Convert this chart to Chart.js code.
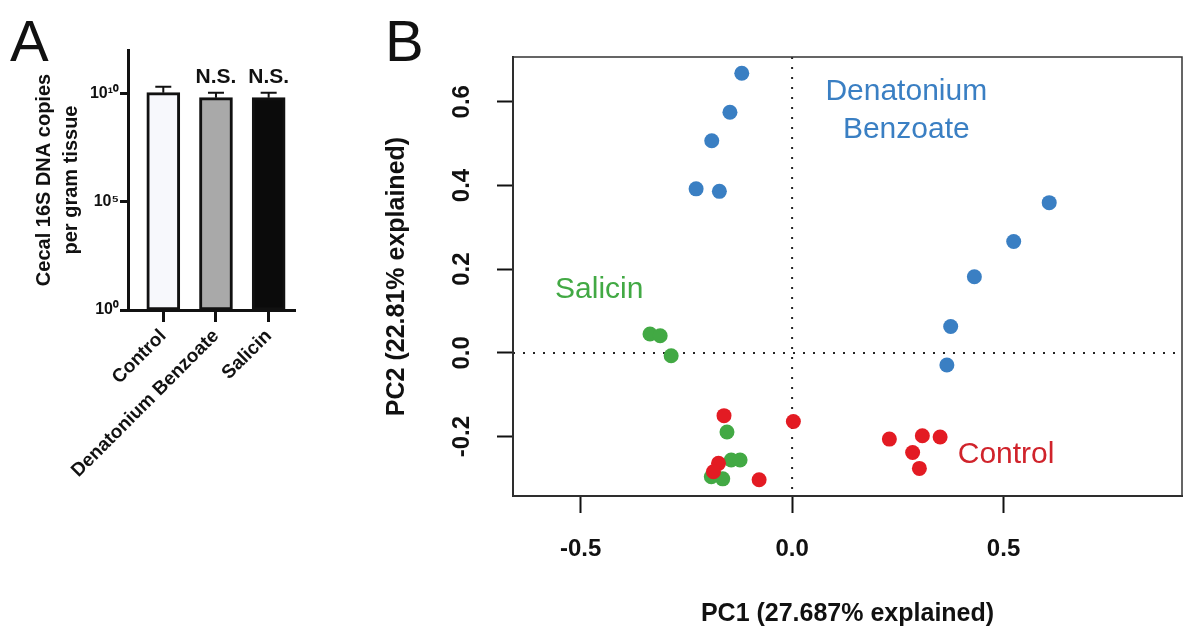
<!DOCTYPE html>
<html>
<head>
<meta charset="utf-8">
<script src="https://cdn.jsdelivr.net/npm/chart.js@4.4.1/dist/chart.umd.min.js"></script>
<style>
  body { margin: 0; background: #fff; width: 1194px; height: 636px; overflow: hidden; position: relative; font-family: 'Liberation Sans', Arial, sans-serif; }
  .letter { position: absolute; font-size: 58px; line-height: 1; color: #111; }
  #wa { position: absolute; left: 0; top: 0; width: 310px; height: 480px; }
  #wb { position: absolute; left: 380px; top: 0; width: 814px; height: 636px; }
</style>
</head>
<body>
<div class="letter" style="left:10px;top:12px">A</div>
<div class="letter" style="left:385px;top:12px">B</div>
<div id="wa"><canvas id="chartA"></canvas></div>
<div id="wb"><canvas id="chartB"></canvas></div>
<script>
// panel A - 16S copies
const groups = ['Control', 'Denatonium Benzoate', 'Salicin'];
const copies = [1.07e10, 6.3e9, 6.3e9];
const copiesErrTop = [2.0e10, 1.07e10, 1.07e10];
const sigLabels = ['', 'N.S.', 'N.S.'];
const logTicks = [1, 1e5, 1e10];
const logTickLabels = ['10⁰', '10⁵', '10¹⁰'];

// panel B - PCA scores [PC1, PC2]
const control = [[-0.161, -0.150], [-0.174, -0.264], [-0.186, -0.284], [-0.078, -0.303], [0.003, -0.164],
  [0.230, -0.206], [0.308, -0.198], [0.350, -0.201], [0.285, -0.238], [0.301, -0.276]];
const salicin = [[-0.336, 0.045], [-0.312, 0.041], [-0.286, -0.007], [-0.154, -0.189], [-0.144, -0.256],
  [-0.123, -0.256], [-0.191, -0.296], [-0.164, -0.301]];
const denatonium = [[-0.119, 0.668], [-0.147, 0.575], [-0.190, 0.507], [-0.227, 0.392], [-0.172, 0.386],
  [0.608, 0.359], [0.524, 0.266], [0.431, 0.182], [0.375, 0.063], [0.366, -0.029]];

const FONT = "'Liberation Sans', Arial, sans-serif";
const RED = '#e31b23', GREEN = '#42a944', BLUE = '#3a7fc3';

const errorBars = {
  id: 'errorBars',
  afterDatasetsDraw(chart) {
    const { ctx, scales: { x, y } } = chart;
    ctx.save();
    ctx.strokeStyle = '#111';
    ctx.lineWidth = 2;
    copies.forEach((v, i) => {
      const px = x.getPixelForValue(i);
      const yb = y.getPixelForValue(v);
      const yt = y.getPixelForValue(copiesErrTop[i]);
      ctx.beginPath();
      ctx.moveTo(px, yb);
      ctx.lineTo(px, yt);
      ctx.moveTo(px - 8, yt);
      ctx.lineTo(px + 8, yt);
      ctx.stroke();
      if (sigLabels[i]) {
        ctx.fillStyle = '#111';
        ctx.font = 'bold 21px ' + FONT;
        ctx.textAlign = 'center';
        ctx.textBaseline = 'alphabetic';
        ctx.fillText(sigLabels[i], px, yt - 10);
      }
    });
    ctx.restore();
  }
};

new Chart(document.getElementById('chartA'), {
  type: 'bar',
  data: {
    datasets: [{
      data: copies.map((v, i) => ({ x: i, y: v })),
      backgroundColor: ['#f7f8fc', '#a9a9a9', '#0b0b0b'],
      borderColor: '#111',
      borderWidth: 3,
      borderSkipped: false,
      barThickness: 33,
    }],
  },
  options: {
    responsive: true,
    maintainAspectRatio: false,
    animation: false,
    layout: { padding: { top: 50, right: 15, left: 0, bottom: 0 } },
    plugins: { legend: { display: false }, tooltip: { enabled: false } },
    scales: {
      x: {
        type: 'linear',
        offset: false,
        min: -0.67,
        max: 2.5,
        afterFit: (s) => { s.height = 170; },
        afterBuildTicks: (s) => { s.ticks = groups.map((g, i) => ({ value: i })); },
        grid: { offset: false, drawOnChartArea: false, tickLength: 12, tickWidth: 3, color: '#111' },
        border: { color: '#111', width: 3 },
        ticks: {
          minRotation: 45, maxRotation: 45, padding: 3, autoSkip: false,
          color: '#111', font: { family: FONT, size: 19, weight: 'bold' },
          callback: (v) => groups[v],
        },
      },
      y: {
        type: 'logarithmic',
        min: 1,
        max: 1e12,
        afterFit: (s) => { s.width = 128; },
        afterBuildTicks: (s) => { s.ticks = logTicks.map((v) => ({ value: v })); },
        grid: { drawOnChartArea: false, tickLength: 8, tickWidth: 3, color: '#111' },
        border: { color: '#111', width: 3 },
        ticks: {
          color: '#111', padding: 1, font: { family: FONT, size: 16, weight: 'bold' },
          callback: (v) => logTickLabels[logTicks.indexOf(v)],
        },
        title: {
          display: true,
          text: ['Cecal 16S DNA copies', 'per gram tissue'],
          color: '#111',
          font: { family: FONT, size: 20, weight: 'bold', lineHeight: 1.35 },
          padding: { top: 31, bottom: 0 },
        },
      },
    },
  },
  plugins: [errorBars],
});

// dotted zero lines, box and group labels
const groupLabels = [
  { text: ['Denatonium', 'Benzoate'], x: 0.27, y: 0.624, color: BLUE },
  { text: ['Salicin'], x: -0.456, y: 0.15, color: GREEN },
  { text: ['Control'], x: 0.506, y: -0.244, color: '#d0232b' },
];

const pcaDecor = {
  id: 'pcaDecor',
  beforeDatasetsDraw(chart) {
    const { ctx, chartArea: a, scales: { x, y } } = chart;
    ctx.save();
    ctx.strokeStyle = '#222';
    ctx.lineWidth = 2;
    ctx.setLineDash([2, 8]);
    const x0 = x.getPixelForValue(0), y0 = y.getPixelForValue(0);
    ctx.beginPath();
    ctx.moveTo(x0, a.top); ctx.lineTo(x0, a.bottom);
    ctx.moveTo(a.left, y0); ctx.lineTo(a.right, y0);
    ctx.stroke();
    ctx.setLineDash([]);
    ctx.strokeStyle = '#333';
    ctx.lineWidth = 1.5;
    ctx.strokeRect(a.left, a.top, a.right - a.left, a.bottom - a.top);
    ctx.restore();
  },
  afterDatasetsDraw(chart) {
    const { ctx, scales: { x, y } } = chart;
    ctx.save();
    ctx.font = '30px ' + FONT;
    ctx.textAlign = 'center';
    ctx.textBaseline = 'middle';
    groupLabels.forEach((g) => {
      ctx.fillStyle = g.color;
      g.text.forEach((t, i) => {
        ctx.fillText(t, x.getPixelForValue(g.x), y.getPixelForValue(g.y) + i * 38);
      });
    });
    ctx.restore();
  }
};

const pts = (arr) => arr.map(([a, b]) => ({ x: a, y: b }));
const tickFmt = (v) => (Math.abs(v) < 1e-9 ? 0 : v).toFixed(1);

new Chart(document.getElementById('chartB'), {
  type: 'scatter',
  data: {
    datasets: [
      { label: 'Control', data: pts(control), backgroundColor: RED },
      { label: 'Salicin', data: pts(salicin), backgroundColor: GREEN },
      { label: 'Denatonium Benzoate', data: pts(denatonium), backgroundColor: BLUE },
    ],
  },
  options: {
    responsive: true,
    maintainAspectRatio: false,
    animation: false,
    layout: { padding: { top: 57, right: 12, left: 0, bottom: 0 } },
    elements: { point: { radius: 7.5, borderWidth: 0, hoverRadius: 7.5 } },
    plugins: { legend: { display: false }, tooltip: { enabled: false } },
    scales: {
      x: {
        min: -0.66,
        max: 0.922,
        afterFit: (s) => { s.height = 140; },
        grid: { drawOnChartArea: false, tickLength: 17, tickWidth: 2, color: '#111' },
        border: { color: '#222', width: 2 },
        ticks: {
          stepSize: 0.5, includeBounds: false, padding: 22, color: '#111',
          font: { family: FONT, size: 24, weight: 'bold' },
          callback: tickFmt,
        },
        title: {
          display: true,
          text: 'PC1 (27.687% explained)',
          color: '#111',
          font: { family: FONT, size: 25, weight: 'bold' },
          padding: { top: 0, bottom: 7 },
        },
      },
      y: {
        min: -0.342,
        max: 0.707,
        afterFit: (s) => { s.width = 133; },
        grid: { drawOnChartArea: false, tickLength: 16, tickWidth: 2, color: '#111' },
        border: { color: '#222', width: 2 },
        ticks: {
          stepSize: 0.2, includeBounds: false, padding: 14, color: '#111',
          minRotation: 90, maxRotation: 90, crossAlign: 'center',
          font: { family: FONT, size: 24, weight: 'bold' },
          callback: tickFmt,
        },
        title: {
          display: true,
          text: 'PC2 (22.81% explained)',
          color: '#111',
          font: { family: FONT, size: 25, weight: 'bold' },
          padding: { top: 2, bottom: 0 },
        },
      },
    },
  },
  plugins: [pcaDecor],
});
</script>
</body>
</html>
